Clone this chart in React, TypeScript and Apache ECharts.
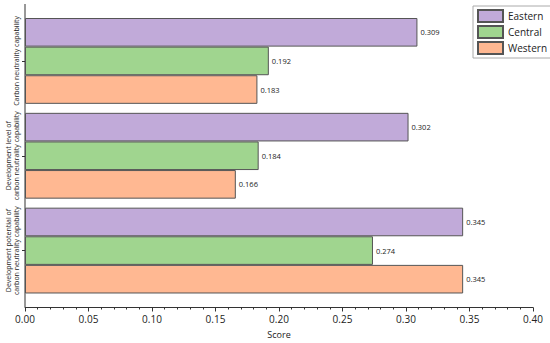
import React, { useEffect, useRef } from "react";
import * as echarts from "echarts";

const categories = [
  "Carbon neutrality capability",
  "Development level of\ncarbon neutrality capability",
  "Development potential of\ncarbon neutrality capability",
];
const seriesNames = ["Eastern", "Central", "Western"];
const eastern = [0.309, 0.302, 0.345];
const central = [0.192, 0.184, 0.274];
const western = [0.183, 0.166, 0.345];
const colors = ["#c1aad9", "#a0d58f", "#ffb892"];

export default function App() {
  const ref = useRef<HTMLDivElement>(null);
  useEffect(() => {
    if (!ref.current) return;
    const chart = echarts.init(ref.current, undefined, { renderer: "svg" });
    const font = "Open Sans";
    const data = [eastern, central, western];
    chart.setOption({
      animation: false,
      textStyle: { fontFamily: font },
      grid: { left: 25, right: 17, top: 13.5, bottom: 45, containLabel: false, outerBoundsMode: "none" },
      graphic: [
        {
          type: "line",
          shape: { x1: 25, y1: 4, x2: 25, y2: 307 },
          style: { stroke: "#333", lineWidth: 1 },
          silent: true,
        },
      ],
      legend: {
        orient: "vertical",
        left: 473,
        top: 6,
        itemWidth: 25,
        itemHeight: 12,
        itemGap: 2,
        padding: [3, 4, 3, 4],
        borderColor: "#aaa",
        borderWidth: 1,
        textStyle: { fontSize: 10, color: "#222" },
        icon: "rect",
        data: seriesNames,
      },
      xAxis: {
        type: "value",
        min: 0,
        max: 0.4,
        interval: 0.05,
        offset: 9.5,
        name: "Score",
        nameLocation: "middle",
        nameGap: 22,
        nameTextStyle: { fontSize: 9, color: "#222" },
        splitLine: { show: false },
        axisLine: { show: true, lineStyle: { color: "#333", width: 1 } },
        axisTick: { show: true, length: 4, lineStyle: { color: "#333" } },
        minorTick: { show: true, splitNumber: 5, length: 2, lineStyle: { color: "#333" } },
        axisLabel: {
          fontSize: 10,
          color: "#222",
          margin: 6,
          formatter: (v: number) => v.toFixed(2),
        },
      },
      yAxis: {
        type: "category",
        inverse: true,
        data: categories,
        axisLine: { show: false },
        axisTick: { show: true, length: 3, alignWithLabel: true, lineStyle: { color: "#333" } },
        axisLabel: {
          interval: 0,
          hideOverlap: false,
          rotate: 90,
          fontSize: 7,
          lineHeight: 8,
          color: "#222",
          margin: 5,
          align: "center",
        },
      },
      series: seriesNames.map((name, i) => ({
        name,
        type: "bar",
        data: data[i],
        barGap: "0%",
        barCategoryGap: "9.5%",
        itemStyle: { color: colors[i], borderColor: "#555", borderWidth: 1 },
        label: {
          show: true,
          position: "right",
          distance: 3,
          fontSize: 7.5,
          color: "#222",
          formatter: (p: any) => p.value.toFixed(3),
        },
      })),
    });
    return () => chart.dispose();
  }, []);
  return (
    <div
      ref={ref}
      style={{ position: "absolute", left: 0, top: 0, width: 550, height: 343 }}
    />
  );
}
